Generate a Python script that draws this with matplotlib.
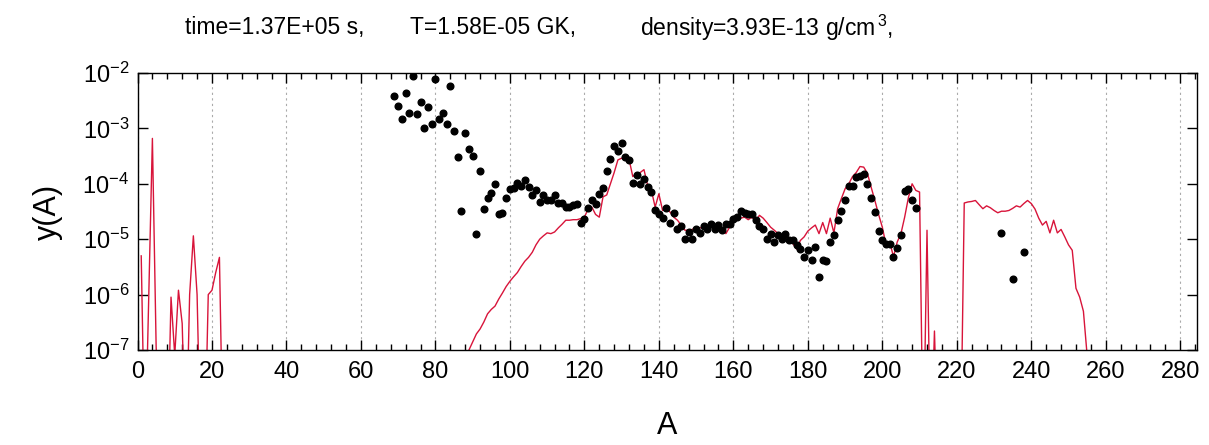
import numpy as np
import matplotlib
matplotlib.use("Agg")
import matplotlib.pyplot as plt
from matplotlib.ticker import MultipleLocator, LogLocator, FixedLocator, NullFormatter

plt.rcParams['font.family'] = ['Liberation Sans', 'DejaVu Sans']
plt.rcParams['mathtext.default'] = 'regular'

# ---------------- data ----------------
red_A1 = list(range(1, 24))
red_y1 = [5e-6, 1e-9, 8e-7, 6.6e-4, 1.2e-7, 1e-9, 1e-9, 1e-9, 9e-7, 8e-8, 1.2e-6, 3e-7,
          1e-9, 1e-6, 1.15e-5, 1e-6, 1e-9, 1e-9, 1e-6, 1.2e-6, 2.5e-6, 4.7e-6, 1e-9]

red_A2 = list(range(88, 216))
red_y2 = [3e-8, 1.0e-7, 1.4e-7, 1.95e-7, 2.4e-7, 3.2e-7, 4.5e-7, 5.4e-7, 6.2e-7, 8.3e-7,
          1.07e-6, 1.4e-6, 1.74e-6, 2.1e-6, 2.5e-6, 3.2e-6, 4.0e-6, 4.7e-6, 5.8e-6, 7.9e-6,
          1.0e-5, 1.15e-5, 1.3e-5, 1.26e-5, 1.35e-5, 1.6e-5, 1.86e-5, 2.2e-5, 2.2e-5, 2.25e-5,
          2.25e-5, 2.35e-5, 2.5e-5, 3.5e-5, 3.8e-5, 2.8e-5, 2.5e-5, 5.8e-5, 6.3e-5, 1.0e-4,
          1.6e-4, 2.7e-4, 2.9e-4, 2.75e-4, 2.75e-4, 1.35e-4, 1.55e-4, 1.6e-4, 1.8e-4, 9.3e-5,
          7.6e-5, 3.8e-5, 6.6e-5, 3.3e-5, 3.5e-5, 3.1e-5, 2.5e-5, 2.2e-5, 1.8e-5, 1.45e-5,
          1.45e-5, 1.5e-5, 1.65e-5, 1.6e-5, 1.65e-5, 1.65e-5, 1.65e-5, 1.65e-5, 1.65e-5, 1.6e-5,
          1.26e-5, 1.65e-5, 2.35e-5, 2.35e-5, 2.4e-5, 2.5e-5, 2.25e-5, 2.5e-5, 2.1e-5, 2.7e-5,
          2.4e-5, 2.0e-5, 1.65e-5, 1.45e-5, 1.26e-5, 1.2e-5, 1.12e-5, 1.0e-5, 8.3e-6, 6.6e-6,
          9.5e-6, 1.1e-5, 1.4e-5, 1.6e-5, 1.8e-5, 1.26e-5, 2.0e-5, 1.26e-5, 2.4e-5, 1.3e-5,
          3.55e-5, 5.4e-5, 8.1e-5, 1.0e-4, 1.35e-4, 1.6e-4, 2.05e-4, 2.0e-4, 1.55e-4, 8.7e-5,
          5.0e-5, 2.8e-5, 1.65e-5, 7.9e-6, 8.9e-6, 4.8e-6, 8.9e-6, 1.26e-5, 2.5e-5, 5.6e-5,
          1.0e-4, 7.6e-5, 7.1e-5, 1e-9, 1.45e-5, 1e-9, 2.2e-7, 1e-9]

red_A3 = list(range(221, 257))
red_y3 = [1e-9, 4.5e-5, 4.7e-5, 4.8e-5, 5.0e-5, 4.2e-5, 3.55e-5, 4.0e-5, 3.7e-5, 3.3e-5,
          3.0e-5, 3.2e-5, 3.2e-5, 3.3e-5, 3.6e-5, 4.0e-5, 3.8e-5, 4.4e-5, 5.0e-5, 4.4e-5,
          3.5e-5, 2.4e-5, 1.8e-5, 2.1e-5, 1.3e-5, 2.2e-5, 1.3e-5, 1.5e-5, 1.1e-5, 7.9e-6,
          6.3e-6, 1.3e-6, 9e-7, 5e-7, 8e-8, 1e-9]

dot_A = list(range(69, 210)) + [232, 235, 238]
dot_y = [3.8e-3, 2.5e-3, 1.5e-3, 4.4e-3, 1.9e-3, 8.9e-3, 1.8e-3, 3.0e-3, 1.0e-3, 2.4e-3,
         1.2e-3, 7.8e-3, 1.5e-3, 1.9e-3, 1.2e-3, 5.8e-3, 8.9e-4, 3.1e-4, 3.2e-5, 8.1e-4,
         4.2e-4, 3.2e-4, 1.25e-5, 1.7e-4, 3.55e-5, 5.6e-5, 6.9e-5, 9.8e-5, 2.8e-5, 2.95e-5,
         5.6e-5, 7.9e-5, 8.5e-5, 1.05e-4, 9.3e-5, 1.17e-4, 8.7e-5, 6.2e-5, 7.6e-5, 4.7e-5,
         6.2e-5, 5.2e-5, 5.2e-5, 6.2e-5, 4.5e-5, 4.5e-5, 3.8e-5, 3.8e-5, 4.1e-5, 4.3e-5,
         2.0e-5, 2.35e-5, 3.6e-5, 5.0e-5, 4.3e-5, 6.5e-5, 8.3e-5, 1.7e-4, 2.75e-4, 4.8e-4,
         3.9e-4, 5.5e-4, 3.1e-4, 2.7e-4, 1.02e-4, 1.45e-4, 9.8e-5, 1.2e-4, 8.9e-5, 7.1e-5,
         3.4e-5, 2.8e-5, 2.4e-5, 3.7e-5, 2.0e-5, 2.95e-5, 1.55e-5, 1.75e-5, 1.02e-5, 1.35e-5,
         1.02e-5, 1.55e-5, 1.3e-5, 1.75e-5, 1.55e-5, 1.85e-5, 1.5e-5, 1.8e-5, 1.45e-5, 1.85e-5,
         1.9e-5, 2.35e-5, 2.5e-5, 3.2e-5, 2.95e-5, 2.9e-5, 2.8e-5, 2.25e-5, 1.75e-5, 1.55e-5,
         1.0e-5, 1.25e-5, 8.9e-6, 1.17e-5, 1.0e-5, 1.25e-5, 9.5e-6, 9.5e-6, 7.9e-6, 6.6e-6,
         4.7e-6, 6.3e-6, 4.2e-6, 7.1e-6, 2.1e-6, 4.3e-6, 4.0e-6, 8.9e-6, 1.2e-5, 2.25e-5,
         3.2e-5, 5.2e-5, 9.1e-5, 9.3e-5, 1.3e-4, 1.4e-4, 1.5e-4, 9.8e-5, 5.6e-5, 3.1e-5,
         1.4e-5, 9.5e-6, 8.3e-6, 8.3e-6, 4.8e-6, 6.8e-6, 1.17e-5, 7.4e-5, 7.9e-5, 5.0e-5,
         3.6e-5,
         1.3e-5, 1.9e-6, 5.8e-6]

x_ticks = list(range(0, 281, 20))
y_ticks = [1e-7, 1e-6, 1e-5, 1e-4, 1e-3, 1e-2]
y_tick_labels = ['10$^{-7}$', '10$^{-6}$', '10$^{-5}$', '10$^{-4}$', '10$^{-3}$', '10$^{-2}$']

title_parts = ['time=1.37E+05 s,', 'T=1.58E-05 GK,', 'density=3.93E-13 g/cm$^{\\,3}$,']

# ---------------- plot ----------------
fig = plt.figure(figsize=(12.09, 4.45), dpi=100)
ax = fig.add_axes([137.5 / 1209, 1 - 350 / 445, (1197 - 137.5) / 1209, (350 - 73) / 445])

red = '#d8143a'
for A, y in [(red_A1, red_y1), (red_A2, red_y2), (red_A3, red_y3)]:
    ax.plot(A, y, color=red, lw=1.0)
ax.plot(dot_A, dot_y, linestyle='none', marker='o', color='black', markersize=4.8)

ax.set_yscale('log')
ax.set_xlim(0, 284.5)
ax.set_ylim(1e-7, 1e-2)

ax.xaxis.set_major_locator(FixedLocator(x_ticks))
ax.xaxis.set_minor_locator(MultipleLocator(4))
ax.set_yticks(y_ticks)
ax.set_yticklabels(y_tick_labels)
ax.yaxis.set_minor_locator(LogLocator(base=10, subs=np.arange(2, 10)))
ax.yaxis.set_minor_formatter(NullFormatter())

ax.tick_params(which='both', direction='in', top=True, right=True, labelsize=17)
ax.tick_params(which='major', length=7, width=1)
ax.tick_params(which='minor', length=4, width=1)
ax.tick_params(axis='x', pad=8)
ax.tick_params(axis='y', pad=6)
ax.grid(True, axis='x', which='major', linestyle=(0, (2, 3)), color='#aaaaaa', lw=0.8)

for s in ax.spines.values():
    s.set_linewidth(1.0)

ax.set_xlabel('A', fontsize=22, labelpad=20)
ax.set_ylabel('y(A)', fontsize=22, labelpad=14)

fig.text(185 / 1209, 0.938, title_parts[0], fontsize=16.5, va='center', ha='left')
fig.text(410 / 1209, 0.938, title_parts[1], fontsize=16.5, va='center', ha='left')
fig.text(640 / 1209, 0.938, title_parts[2], fontsize=16.5, va='center', ha='left')

fig.savefig('out.png', dpi=100)
